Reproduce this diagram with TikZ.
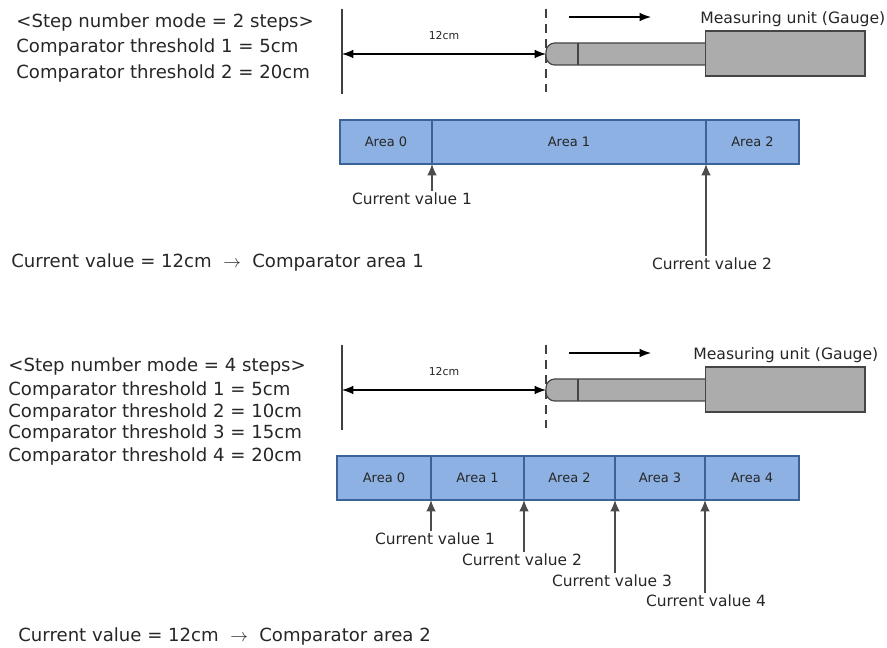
\documentclass[tikz,border=0pt]{standalone}
\usepackage{fontspec}
\setmainfont{DejaVu Sans}
\usetikzlibrary{arrows.meta}
\usetikzlibrary{calc}
\definecolor{areablue}{HTML}{8DB1E2}
\definecolor{areaedge}{HTML}{3A6398}
\definecolor{gaugegray}{HTML}{ACACAC}
\definecolor{gaugeedge}{HTML}{454545}
\definecolor{inktext}{HTML}{262626}
\tikzset{
	areacell/.style={draw=areaedge, fill=areablue, line width=0.9pt, minimum height=44*0.02cm, inner sep=0pt, outer sep=0pt, font=\fontsize{7.4}{8}\selectfont, text=inktext, anchor=west},
	infotext/.style={inner sep=0pt, anchor=west, font=\fontsize{10.3}{12}\selectfont, text=inktext},
	unittext/.style={inner sep=0pt, anchor=west, font=\fontsize{8.9}{10}\selectfont, text=inktext},
	curlabel/.style={inner sep=1pt, font=\fontsize{8.8}{10}\selectfont, text=inktext},
	curarrow/.style={{Latex[length=6.5pt,width=5.5pt]}-, line width=0.7pt, draw=black!70},
	gaugeline/.style={draw=gaugeedge, fill=gaugegray, line width=0.7pt},
	tipboth/.style={{Latex[length=6.5pt,width=5pt]}-{Latex[length=6.5pt,width=5pt]}, line width=0.7pt},
	tipright/.style={-{Latex[length=6.5pt,width=5pt]}, line width=0.7pt}
}
\newcommand{\gaugeunit}[1] % y of the 12cm arrow
{
	% start and moved end
	\draw[line width=0.7pt, black!75] (342,#1-45) -- (342,#1+40);
	\draw[dash pattern=on 5pt off 3.5pt, line width=0.7pt, black!75] (546,#1-45) -- (546,#1+44);
	% plug and body
	\draw[gaugeline, rounded corners=5pt] (715,#1-11) -- (546,#1-11) -- (546,#1+11) -- (715,#1+11) -- cycle;
	\draw[gaugeline] (578,#1-11) -- (578,#1+11);
	\draw[gaugeline] (705.5,#1-23) rectangle (865,#1+22);
	% arrows
	\draw[tipright] (569,#1-37) -- (651,#1-37);
	\draw[tipboth] (342,#1) -- (546,#1);
	\node[font=\fontsize{6.2}{8}\selectfont, text=inktext] at (444,#1-18) {12cm};
}
\begin{document}
\begin{tikzpicture}[x=0.02cm, y=-0.02cm]
	\useasboundingbox (0,0) rectangle (887,648);
	% 2 steps
	\node[infotext] (stepa) at (16,23) {<Step number mode = 2 steps>};
	\node[infotext] (stepb) at (16,48) {Comparator threshold 1 = 5cm};
	\node[infotext] (stepc) at (16,74) {Comparator threshold 2 = 20cm};
	\gaugeunit{54};
	\node[unittext] (unita) at (700,19) {Measuring unit (Gauge)};

	\node[areacell, minimum width=92*0.02cm] (aa) at (340,142) {Area 0};
	\node[areacell, minimum width=274*0.02cm] (ab) at (aa.east) {Area 1};
	\node[areacell, minimum width=93*0.02cm] (ac) at (ab.east) {Area 2};

	\node[curlabel] (cura) at (412,199) {Current value 1};
	\node[curlabel] (curb) at (712,264) {Current value 2};
	\draw[curarrow] (aa.south east) -- (aa.south east |- cura.north);
	\draw[curarrow] (ab.south east) -- (ab.south east |- curb.north);

	\node[infotext] (sumb) at (11,263) {Current value = 12cm\ \ $\rightarrow$\ \ Comparator area 1};

	% 4 steps
	\node[infotext] (stepd) at (8,367) {<Step number mode = 4 steps>};
	\node[infotext] (stepe) at (8,391) {Comparator threshold 1 = 5cm};
	\node[infotext] (stepf) at (8,413) {Comparator threshold 2 = 10cm};
	\node[infotext] (stepg) at (8,434) {Comparator threshold 3 = 15cm};
	\node[infotext] (steph) at (8,457) {Comparator threshold 4 = 20cm};
	\gaugeunit{390};
	\node[unittext] (unitb) at (693,355) {Measuring unit (Gauge)};

	\node[areacell, minimum width=94*0.02cm] (ba) at (337,478) {Area 0};
	\node[areacell, minimum width=93*0.02cm] (bb) at (ba.east) {Area 1};
	\node[areacell, minimum width=91*0.02cm] (bc) at (bb.east) {Area 2};
	\node[areacell, minimum width=90*0.02cm] (bd) at (bc.east) {Area 3};
	\node[areacell, minimum width=94*0.02cm] (be) at (bd.east) {Area 4};

	\node[curlabel] (curc) at (435,539) {Current value 1};
	\node[curlabel] (curd) at (522,560) {Current value 2};
	\node[curlabel] (cure) at (612,581) {Current value 3};
	\node[curlabel] (curf) at (706,601) {Current value 4};
	\draw[curarrow] (ba.south east) -- (ba.south east |- curc.north);
	\draw[curarrow] (bb.south east) -- (bb.south east |- curd.north);
	\draw[curarrow] (bc.south east) -- (bc.south east |- cure.north);
	\draw[curarrow] (bd.south east) -- (bd.south east |- curf.north);

	\node[infotext] (suma) at (18,637) {Current value = 12cm\ \ $\rightarrow$\ \ Comparator area 2};
\end{tikzpicture}
\end{document}
